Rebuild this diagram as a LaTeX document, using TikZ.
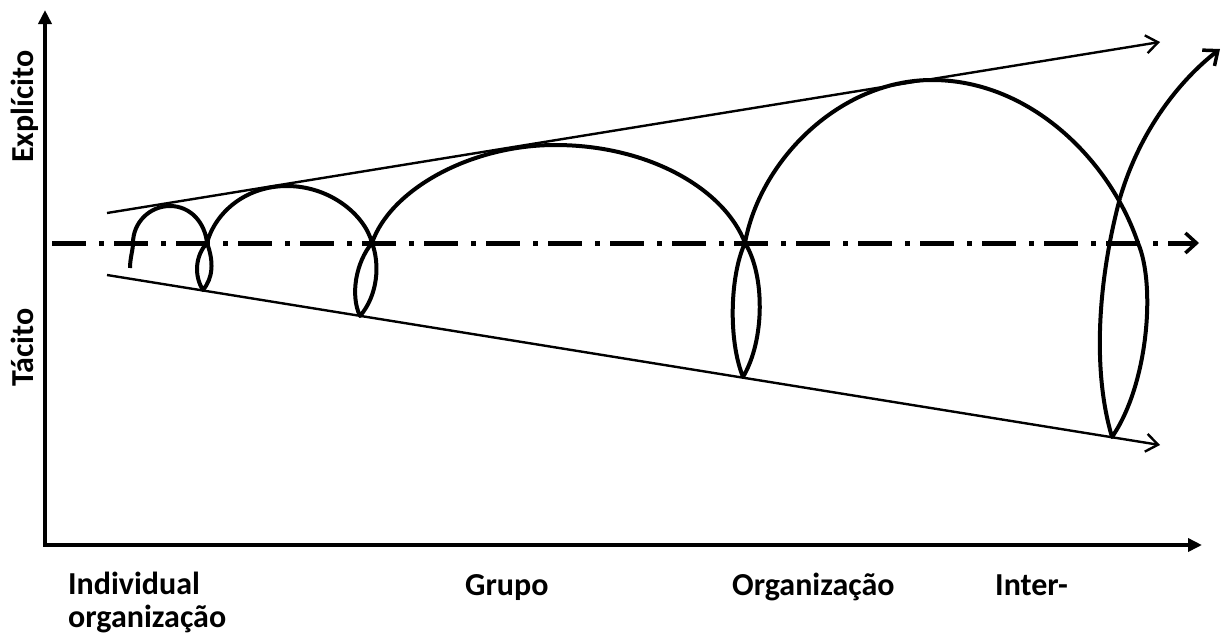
\documentclass[tikz,border=0pt]{standalone}
\usepackage{fontspec}
\setmainfont{Carlito}
\usetikzlibrary{arrows.meta}
\begin{document}
\begin{tikzpicture}[x=1pt,y=-1pt,
  axis/.style={line width=3.5pt,-{Triangle[length=14pt,width=13pt]}},
  bound/.style={line width=2.4pt,-{Straight Barb[length=12pt,width=18pt,line width=2.4pt]}},
  spiral/.style={line width=4pt,line join=round},
  mid/.style={line width=5pt,dash pattern=on 34pt off 13pt on 5pt off 10pt,-{Straight Barb[length=11pt,width=20pt,line width=3.5pt]}},
  lab/.style={font=\bfseries\fontsize{32}{33}\selectfont,inner sep=0pt}]
\useasboundingbox (0,0) rectangle (1224,641);
% axes
\coordinate (O) at (45,545);
\coordinate (Ytop) at (45,10);
\coordinate (Xend) at (1202,545);
\draw[axis] (O) -- (Ytop);
\draw[axis] ([xshift=-1.75pt]O) -- (Xend);
% bounds
\coordinate (U0) at (107,213);
\coordinate (U1) at (1160,42);
\coordinate (L0) at (107,275);
\coordinate (L1) at (1160,445);
\draw[bound] (U0) -- (U1);
\draw[bound] (L0) -- (L1);
% centre line
\coordinate (M0) at (52,243);
\coordinate (M1) at (1199,243);
\draw[mid] (M0) -- (M1);
% spiral
\coordinate (S0) at (130,268);
\coordinate (C1) at (207,243);
\coordinate (B1) at (203,290);
\coordinate (C2) at (372,243);
\coordinate (B2) at (360,316);
\coordinate (C3) at (745,243);
\coordinate (B3) at (743,377);
\coordinate (B4) at (1112,437);
\coordinate (X4) at (1120,198);
\coordinate (T) at (1220,49);
\draw[spiral] (S0) .. controls (130,258) and (133,250) .. (133,243)
  .. controls (133,222.6) and (149.6,206) .. (170,206)
  .. controls (190.4,206) and (205,222.6) .. (C1)
  .. controls (214,262) and (213,278) .. (B1)
  .. controls (194,276) and (195,256) .. (C1)
  .. controls (215,213) and (245,186) .. (287,186)
  .. controls (330,186) and (365,215) .. (C2)
  .. controls (380,264) and (378,295) .. (B2)
  .. controls (350,295) and (356,262) .. (C2)
  .. controls (390,190) and (470,145) .. (555,145)
  .. controls (650,145) and (725,190) .. (C3)
  .. controls (765,275) and (765,340) .. (B3)
  .. controls (728,340) and (730,275) .. (C3)
  .. controls (760,160) and (840,80) .. (932,80)
  .. controls (1030,80) and (1110,160) .. (1138,243)
  .. controls (1156,285) and (1148,385) .. (B4)
  .. controls (1092,370) and (1098,280) .. (X4);
\draw[spiral,-{Straight Barb[length=12pt,width=20pt,line width=3.5pt]}] (X4) .. controls (1140,130) and (1180,80) .. (T);
% labels
\node[lab,anchor=base west] (ind) at (68,594) {Individual};
\node[lab,anchor=base west] (indorg) at (68,627) {organização};
\node[lab,anchor=base west] (gru) at (465,595) {Grupo};
\node[lab,anchor=base west] (org) at (732,595) {Organização};
\node[lab,anchor=base west] (int) at (995,595) {Inter-};
\node[lab,anchor=base west,rotate=90] (exp) at (33,163) {Explícito};
\node[lab,anchor=base west,rotate=90] (tac) at (33,387) {Tácito};
\end{tikzpicture}
\end{document}
